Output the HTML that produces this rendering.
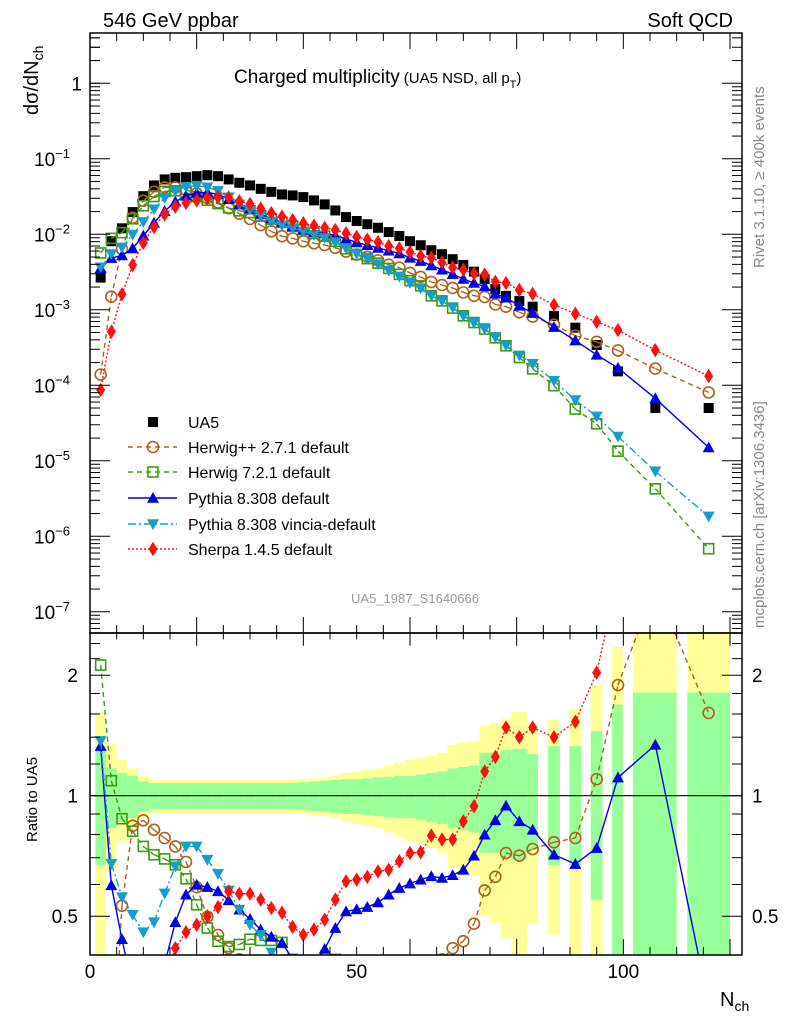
<!DOCTYPE html>
<html><head><meta charset="utf-8"><style>
html,body{margin:0;padding:0;background:#fff;width:786px;height:1024px;overflow:hidden}
svg{display:block;font-family:"Liberation Sans",sans-serif}
</style></head><body>
<svg id="chart" width="786" height="1024" viewBox="0 0 786 1024" xmlns="http://www.w3.org/2000/svg">
<defs>
<clipPath id="cm"><rect x="90" y="33" width="652" height="600"/></clipPath>
<clipPath id="cr"><rect x="90" y="633" width="652" height="322"/></clipPath>
</defs>
<g id="bands" clip-path="url(#cr)"></g>
<line x1="90" x2="742" y1="795.7" y2="795.7" stroke="#000" stroke-width="1.2"/>
<g id="mainMarks" clip-path="url(#cm)"></g>
<g id="ratioMarks" clip-path="url(#cr)"></g>
<g id="axes"></g>
<rect x="90" y="33" width="652" height="600" fill="none" stroke="#000" stroke-width="1.5"/>
<rect x="90" y="633" width="652" height="322" fill="none" stroke="#000" stroke-width="1.5"/>
<text x="103" y="27" font-size="20">546 GeV ppbar</text>
<text x="733" y="27" font-size="20" text-anchor="end">Soft QCD</text>
<text x="234" y="83" font-size="19">Charged multiplicity<tspan font-size="15" dx="4">(UA5 NSD, all p</tspan><tspan font-size="11" dy="5">T</tspan><tspan font-size="15" dy="-5">)</tspan></text>
<text transform="translate(38,115) rotate(-90)" font-size="20">dσ/dN<tspan font-size="14" dy="5">ch</tspan></text>
<text transform="translate(37,842) rotate(-90)" font-size="15">Ratio to UA5</text>
<text x="720" y="1006" font-size="20">N<tspan font-size="14" dy="5">ch</tspan></text>
<text transform="translate(764,268) rotate(-90)" font-size="15" fill="#888">Rivet 3.1.10, ≥ 400k events</text>
<text transform="translate(764,628) rotate(-90)" font-size="15" fill="#888">mcplots.cern.ch [arXiv:1306.3436]</text>
<text x="415" y="603" font-size="13" fill="#999" text-anchor="middle">UA5_1987_S1640666</text>
<g id="legend"></g>
</svg>
<script>
const nch=[2,4,6,8,10,12,14,16,18,20,22,24,26,28,30,32,34,36,38,40,42,44,46,48,50,52,54,56,58,60,62,64,66,68,70,72,74,76,78,80.5,83,87,91,95,99,106,116];
const binLo=[1,3,5,7,9,11,13,15,17,19,21,23,25,27,29,31,33,35,37,39,41,43,45,47,49,51,53,55,57,59,61,63,65,67,69,71,73,75,77,79,82,85.9,89.9,93.9,97.9,101.8,112];
const binHi=[3,5,7,9,11,13,15,17,19,21,23,25,27,29,31,33,35,37,39,41,43,45,47,49,51,53,55,57,59,61,63,65,67,69,71,73,75,77,79,82,84,88.1,92.1,96.1,99.9,110,120];
const ua5=[2.67e-3,8.1e-3,0.012,0.0197,0.032,0.0444,0.0533,0.056,0.0571,0.0589,0.0607,0.0589,0.0533,0.0481,0.0444,0.040,0.0365,0.0337,0.0327,0.0311,0.0281,0.0249,0.0207,0.0169,0.015,0.0136,0.0122,0.0107,0.0095,0.0081,7.16e-3,6.15e-3,5.45e-3,4.68e-3,3.93e-3,3.2e-3,2.55e-3,1.88e-3,1.53e-3,1.31e-3,1.1e-3,8.3e-4,5.8e-4,3.42e-4,1.53e-4,5.0e-5,5.0e-5];
const errYellow=[0.61,0.35,0.23,0.17,0.117,0.096,0.096,0.096,0.096,0.096,0.096,0.096,0.096,0.096,0.096,0.096,0.096,0.096,0.098,0.1,0.105,0.11,0.12,0.14,0.15,0.16,0.17,0.19,0.21,0.23,0.24,0.26,0.28,0.34,0.36,0.37,0.5,0.52,0.56,0.62,0.52,0.55,0.65,0.89,1.35,2,2];
const errGreen=[0.33,0.17,0.14,0.12,0.085,0.075,0.075,0.075,0.075,0.075,0.075,0.075,0.075,0.075,0.075,0.075,0.075,0.075,0.077,0.08,0.085,0.09,0.095,0.1,0.1,0.105,0.11,0.115,0.12,0.12,0.13,0.14,0.15,0.17,0.18,0.19,0.28,0.28,0.3,0.31,0.27,0.33,0.33,0.45,0.69,0.81,0.81];
const ratioHerwigPP=[0.052,0.184,0.531,0.841,0.868,0.822,0.784,0.747,0.683,0.591,0.498,0.449,0.416,0.39,0.36,0.33,0.30,0.28,0.27,0.26,0.27,0.29,0.32,0.35,0.36,0.37,0.37,0.37,0.38,0.38,0.38,0.38,0.39,0.416,0.433,0.479,0.58,0.627,0.719,0.708,0.736,0.765,0.784,1.10,1.89,3.33,1.61];
const ratioHerwig7=[2.12,1.09,0.876,0.815,0.747,0.712,0.695,0.672,0.620,0.534,0.467,0.433,0.42,0.425,0.438,0.435,0.435,0.43,0.39,0.37,0.37,0.38,0.39,0.38,0.36,0.35,0.34,0.33,0.31,0.30,0.29,0.249,0.241,0.225,0.212,0.212,0.218,0.226,0.218,0.178,0.150,0.119,0.0836,0.0904,0.0877,0.085,0.0137];
const ratioPythia=[1.33,0.597,0.438,0.33,0.3,0.32,0.38,0.483,0.566,0.599,0.591,0.577,0.548,0.519,0.492,0.463,0.444,0.429,0.39,0.37,0.38,0.414,0.467,0.514,0.52,0.527,0.541,0.566,0.588,0.603,0.617,0.629,0.623,0.633,0.653,0.708,0.799,0.868,0.944,0.863,0.822,0.712,0.675,0.74,1.11,1.34,0.30];
const ratioVincia=[1.37,0.676,0.558,0.504,0.456,0.483,0.57,0.666,0.747,0.747,0.692,0.638,0.58,0.519,0.476,0.449,0.406,0.39,0.37,0.35,0.35,0.36,0.38,0.39,0.37,0.35,0.33,0.31,0.29,0.282,0.27,0.25,0.24,0.23,0.212,0.21,0.22,0.23,0.22,0.19,0.175,0.138,0.11,0.113,0.137,0.145,0.0366];
const ratioSherpa=[0.0325,0.0634,0.134,0.199,0.241,0.281,0.344,0.416,0.456,0.476,0.5,0.527,0.577,0.569,0.569,0.55,0.524,0.51,0.47,0.449,0.463,0.49,0.55,0.611,0.617,0.627,0.647,0.653,0.686,0.719,0.722,0.795,0.777,0.777,0.863,0.941,1.15,1.25,1.48,1.40,1.48,1.40,1.53,2.03,3.52,5.84,2.65];
const xTicks=[0,50,100];
const ratioTicks=[0.5,1,2];

const NS='http://www.w3.org/2000/svg';
const X0=90,X1=742,XMIN=0,XMAX=122.25;
const RTOP=633,RBOT=955,MTOP=33,MBOT=633;
function xs(n){return X0+(n-XMIN)/(XMAX-XMIN)*(X1-X0);}
function ym(v){return 83.3-75.5*Math.log10(v);}
function yr(r){return 795.7-120.5*Math.log2(r);}
function mk(tag,attrs,parent){const e=document.createElementNS(NS,tag);for(const k in attrs)e.setAttribute(k,attrs[k]);parent.appendChild(e);return e;}

// clip a segment to y-range [top,bot]; returns null or [x1,y1,x2,y2]
function clipSeg(a,b,top,bot){
  let t0=0,t1=1;const dy=b[1]-a[1];
  if(Math.abs(dy)<1e-9){if(a[1]<top||a[1]>bot)return null;}
  else{
    let ta=(top-a[1])/dy,tb=(bot-a[1])/dy;
    if(ta>tb){const t=ta;ta=tb;tb=t;}
    t0=Math.max(t0,ta);t1=Math.min(t1,tb);
    if(t0>=t1)return null;
  }
  return [a[0]+(b[0]-a[0])*t0,a[1]+dy*t0,a[0]+(b[0]-a[0])*t1,a[1]+dy*t1];
}
function drawLine(g,pts,top,bot,sr,nm){
  for(let i=0;i<pts.length-1;i++){
    const s=clipSeg(pts[i],pts[i+1],top,bot);
    if(!s)continue;
    const l=mk('line',{x1:s[0],y1:s[1],x2:s[2],y2:s[3],stroke:sr.c,'stroke-width':1.4,'stroke-dasharray':sr.dash},g);
    
    
  }
}

const bands=document.getElementById('bands');
nch.forEach((n,i)=>{
  const x0=xs(binLo[i]),w=xs(binHi[i])-x0;
  const yt=Math.max(yr(1+errYellow[i]),RTOP),yb=Math.min(yr(Math.max(1-errYellow[i],0.01)),RBOT);
  const y1=mk('rect',{x:x0,y:yt,width:w,height:yb-yt,fill:'#ffff99'},bands);
  
  
  const gt=Math.max(yr(1+errGreen[i]),RTOP),gb=Math.min(yr(Math.max(1-errGreen[i],0.01)),RBOT);
  const g1=mk('rect',{x:x0,y:gt,width:w,height:gb-gt,fill:'#99ff99'},bands);
  
  
});

function marker(g,type,x,y,color,s){
  let e;
  if(type==='sqf') e=mk('rect',{x:x-s,y:y-s,width:2*s,height:2*s,fill:color},g);
  else if(type==='sqo') e=mk('rect',{x:x-s,y:y-s,width:2*s,height:2*s,fill:'none',stroke:color,'stroke-width':1.6},g);
  else if(type==='circ') e=mk('circle',{cx:x,cy:y,r:s,fill:'none',stroke:color,'stroke-width':1.6},g);
  else if(type==='tu') e=mk('polygon',{points:`${x},${y-s} ${x+s},${y+s*0.8} ${x-s},${y+s*0.8}`,fill:color},g);
  else if(type==='td') e=mk('polygon',{points:`${x},${y+s} ${x+s},${y-s*0.8} ${x-s},${y-s*0.8}`,fill:color},g);
  else e=mk('polygon',{points:`${x},${y-s*1.2} ${x+s*0.75},${y} ${x},${y+s*1.2} ${x-s*0.75},${y}`,fill:color},g);
  return e;
}

const series=[
  {name:'herwigpp-2-7-1',r:ratioHerwigPP,c:'#b0601a',m:'circ',s:5.5,dash:'5,4'},
  {name:'herwig-7-2-1',r:ratioHerwig7,c:'#3c9a10',m:'sqo',s:5,dash:'5,4'},
  {name:'pythia-8-308',r:ratioPythia,c:'#0000e6',m:'tu',s:6,dash:''},
  {name:'pythia-8-308-vincia',r:ratioVincia,c:'#1a9cc8',m:'td',s:6,dash:'8,3,2,3'},
  {name:'sherpa-1-4-5',r:ratioSherpa,c:'#ff1010',m:'dia',s:6,dash:'2,2'}
];

const mainG=document.getElementById('mainMarks');
const ratioG=document.getElementById('ratioMarks');
nch.forEach((n,i)=>{
  const e=marker(mainG,'sqf',xs(n),ym(ua5[i]),'#000',5);
  
  
});
series.forEach(sr=>{
  const mpts=nch.map((n,i)=>[xs(n),ym(ua5[i]*sr.r[i])]);
  const rpts=nch.map((n,i)=>[xs(n),yr(sr.r[i])]);
  drawLine(mainG,mpts,MTOP,MBOT,sr,sr.name+'-line');
  drawLine(ratioG,rpts,RTOP,RBOT,sr,sr.name+'-ratio-line');
  mpts.forEach(p=>{if(p[1]<MTOP-8||p[1]>MBOT+8)return;const e=marker(mainG,sr.m,p[0],p[1],sr.c,sr.s);
    
    });
  rpts.forEach(p=>{if(p[1]<RTOP-8||p[1]>RBOT+8)return;const e=marker(ratioG,sr.m,p[0],p[1],sr.c,sr.s);
    
    });
});

const ax=document.getElementById('axes');
for(let n=0;n<=120;n+=5){
  const x=xs(n),L=(n%20===0)?16:8;
  [[33,33+L],[633,633-L],[633,633+L*0.8],[955,955-L]].forEach(a=>mk('line',{x1:x,x2:x,y1:a[0],y2:a[1],stroke:'#000','stroke-width':1},ax));
}
xTicks.forEach(t=>{const e=mk('text',{x:xs(t),y:978,'font-size':19,'text-anchor':'middle'},ax);e.textContent=t;
  
  });
for(let d=-8;d<=0;d++){
  for(let k=1;k<10;k++){
    const v=k*Math.pow(10,d),y=ym(v);
    if(y<33||y>633)continue;
    const L=k===1?20:10;
    mk('line',{x1:X0,x2:X0+L,y1:y,y2:y,stroke:'#000'},ax);
    mk('line',{x1:X1,x2:X1-L,y1:y,y2:y,stroke:'#000'},ax);
  }
  if(ym(Math.pow(10,d))>=33&&ym(Math.pow(10,d))<=633){
    const t=mk('text',{x:d===0?82:84,y:ym(Math.pow(10,d))+7,'font-size':19,'text-anchor':'end'},ax);
    
    
    if(d===0)t.textContent='1';
    else{t.textContent='10';const s=document.createElementNS(NS,'tspan');s.setAttribute('dy','-8');s.setAttribute('font-size','13');s.textContent='−'+(-d);t.appendChild(s);t.setAttribute('x','70');t.setAttribute('text-anchor','end');}
  }
}
for(let k=1;k<=5;k++){
  const y=ym(k);if(y>=33)mk('line',{x1:X0,x2:X0+10,y1:y,y2:y,stroke:'#000'},ax);
}
[0.4,0.5,0.6,0.7,0.8,0.9,1,1.2,1.4,1.6,1.8,2,2.2,2.4].forEach(r=>{
  const y=yr(r);if(y<633||y>955)return;
  const L=(r===0.5||r===1||r===2)?20:10;
  mk('line',{x1:X0,x2:X0+L,y1:y,y2:y,stroke:'#000'},ax);
  mk('line',{x1:X1,x2:X1-L,y1:y,y2:y,stroke:'#000'},ax);
});
ratioTicks.forEach(r=>{
  const a=mk('text',{x:78,y:yr(r)+7,'font-size':19,'text-anchor':'end'},ax);a.textContent=r;
  
  
  const b=mk('text',{x:752,y:yr(r)+7,'font-size':19},ax);b.textContent=r;
  
  
});

const lg=document.getElementById('legend');
const legendLabels=['UA5','Herwig++ 2.7.1 default','Herwig 7.2.1 default','Pythia 8.308 default','Pythia 8.308 vincia-default','Sherpa 1.4.5 default'];
const legY=[422,447,472,498,524,549];
legendLabels.forEach((lab,i)=>{
  const y=legY[i];
  const g=mk('g',{},lg);
  
  
  if(i===0){marker(g,'sqf',153,y,'#000',5);}
  else{const sr=series[i-1];
    mk('line',{x1:128,x2:177,y1:y,y2:y,stroke:sr.c,'stroke-width':1.4,'stroke-dasharray':sr.dash},g);
    marker(g,sr.m,153,y,sr.c,sr.s);}
  const t=mk('text',{x:188,y:y+6,'font-size':16},g);t.textContent=lab;
});
</script>
</body></html>
